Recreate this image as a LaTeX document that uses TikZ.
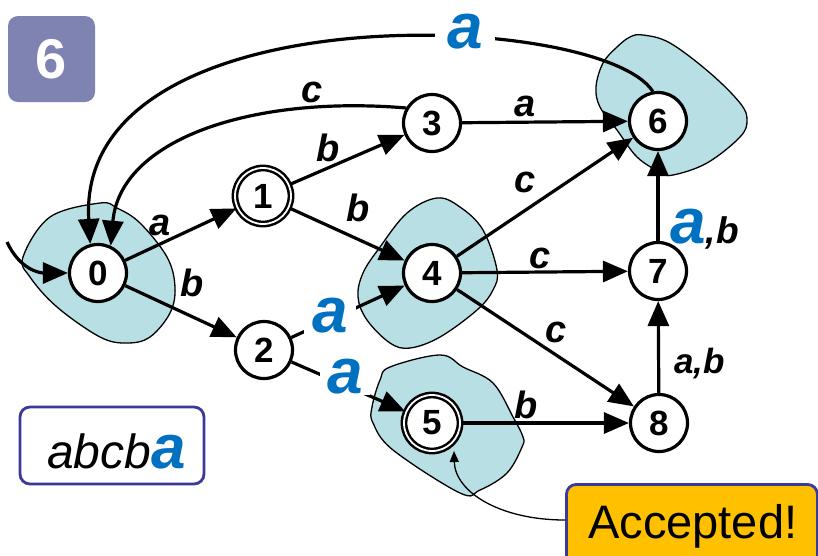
\documentclass[tikz,border=0pt]{standalone}
\usepackage{fontspec}
\setmainfont{Liberation Sans}
\usetikzlibrary{arrows.meta}
\definecolor{blobc}{RGB}{184,223,227}
\definecolor{boxc}{RGB}{127,131,178}
\definecolor{bluea}{RGB}{0,112,192}
\definecolor{framec}{RGB}{58,58,154}
\definecolor{goldc}{RGB}{255,192,0}
\begin{document}
\begin{tikzpicture}[x=1pt,y=-1pt,
  st/.style={circle,draw,line width=3.2pt,fill=white,minimum size=57pt,inner sep=0pt,font=\fontsize{35}{35}\selectfont\bfseries},
  acc/.style={st,double,double distance=1.8pt,line width=2.5pt,minimum size=56pt},
  ed/.style={line width=3.2pt,-{Triangle[length=25pt,width=21pt]}},
  blob/.style={draw=black,line width=1.3pt,fill=blobc},
  el/.style={inner sep=0pt,font=\fontsize{38}{38}\selectfont\bfseries\itshape},
  ba/.style={fill=white,inner ysep=0pt,text=bluea,font=\fontsize{64}{64}\selectfont\bfseries\itshape}]
\useasboundingbox (0,0) rectangle (818,555);
% blobs
\draw[blob] plot[smooth cycle,tension=0.6] coordinates {(23,257) (50,217) (100,203) (117,208) (140,223) (167,257) (175,287) (170,313) (150,337) (127,343) (100,337) (57,307) (30,277)};
\draw[blob] plot[smooth cycle,tension=0.6] coordinates {(437,198) (460,207) (483,230) (497,270) (493,290) (477,310) (440,337) (410,348) (390,343) (367,320) (358,297) (363,273) (380,247) (407,213)};
\draw[blob] plot[smooth cycle,tension=0.6] coordinates {(440,355) (463,367) (493,383) (513,417) (523,437) (522,447) (507,473) (480,490) (460,493) (393,450) (373,423) (372,407) (380,380) (390,367)};
\draw[blob] plot[smooth cycle,tension=0.6] coordinates {(643,35) (670,43) (710,73) (740,103) (747,120) (740,137) (707,163) (673,175) (660,172) (637,157) (617,130) (600,107) (596,87) (603,63) (617,47) (630,37)};
% states
\node[st] (n0) at (98,273) {0};
\node[acc] (n1) at (263,196) {1};
\node[st] (n2) at (264,350) {2};
\node[st] (n3) at (432,123) {3};
\node[st] (n4) at (432,273) {4};
\node[acc] (n5) at (432,423) {5};
\node[st] (n6) at (658,121) {6};
\node[st] (n7) at (658,271) {7};
\node[st] (n8) at (659,423) {8};
% start
\coordinate (s0) at (7,242);
\draw[ed] (s0) .. controls (20,270) and (40,273) .. (n0.west);
% edges
\draw[ed] (n0) -- (n1);
\draw[ed] (n0) -- (n2);
\draw[ed] (n1) -- (n3);
\draw[ed] (n1) -- (n4);
\draw[ed] (n3) -- (n6);
\draw[ed] (n4) -- (n6);
\draw[ed] (n4) -- (n7);
\draw[ed] (n4) -- (n8);
\draw[ed] (n5) -- (n8);
\draw[ed] (n7) -- (n6);
\draw[ed] (n8) -- (n7);
\draw[ed] (n2) -- (n4);
\draw[ed] (n2) -- (n5);
\draw[ed] (n3.150) .. controls (250,95) and (120,140) .. (n0.65);
\draw[ed] (n6.100) .. controls (600,10) and (75,-10) .. (n0.105);
% labels
\node[el] (l01) at (160,225) {a};
\node[el] (l02) at (192,283) {b};
\node[el] (l13) at (328,148) {b};
\node[el] (l30) at (312,92) {c};
\node[el] (l36) at (525,106) {a};
\node[el] (l46) at (525,182) {c};
\node[el] (l14) at (358,208) {b};
\node[el] (l47) at (540,258) {c};
\node[el] (l48) at (556,332) {c};
\node[el] (l58) at (526,405) {b};
\node[el,anchor=base west,font=\fontsize{35}{35}\selectfont\bfseries\itshape] (l87) at (674,373) {a,b};
\node[inner sep=0pt,anchor=base west] (l76) at (670,243) {{\color{bluea}\fontsize{64}{64}\selectfont\bfseries\itshape a}{\fontsize{37}{37}\selectfont\bfseries\itshape ,b}};
\node[ba,inner xsep=12pt] (l60) at (465,32) {a};
\node[ba,inner xsep=8pt] (l24) at (330,316) {a};
\node[ba,inner xsep=7pt] (l25) at (345,377) {a};
% boxes
\node[fill=boxc,rounded corners=10pt,minimum width=87pt,minimum height=86pt,text=white,font=\fontsize{56}{56}\selectfont\bfseries] (step6) at (51.5,59) {6};
\node[draw=framec,line width=2.8pt,rounded corners=10pt,minimum width=184pt,minimum height=77pt] (inp) at (112,445.5) {};
\node[inner sep=0pt,anchor=base west] (inptxt) at (47,468) {{\fontsize{48}{48}\selectfont\itshape abcb}{\color{bluea}\fontsize{62}{62}\selectfont\bfseries\itshape a}};
\node[draw=framec,fill=goldc,line width=2.8pt,rounded corners=10pt,minimum width=251pt,minimum height=90pt,anchor=north west] (accb) at (565,483) {};
\node[inner sep=0pt,anchor=base west,font=\fontsize{47}{47}\selectfont] (acctxt) at (588,538) {Accepted!};
\draw[line width=1.3pt,-{Triangle[length=11pt,width=9pt]}] (accb.west |- 0,520) .. controls (500,520) and (455,492) .. (454,451);
\end{tikzpicture}
\end{document}
